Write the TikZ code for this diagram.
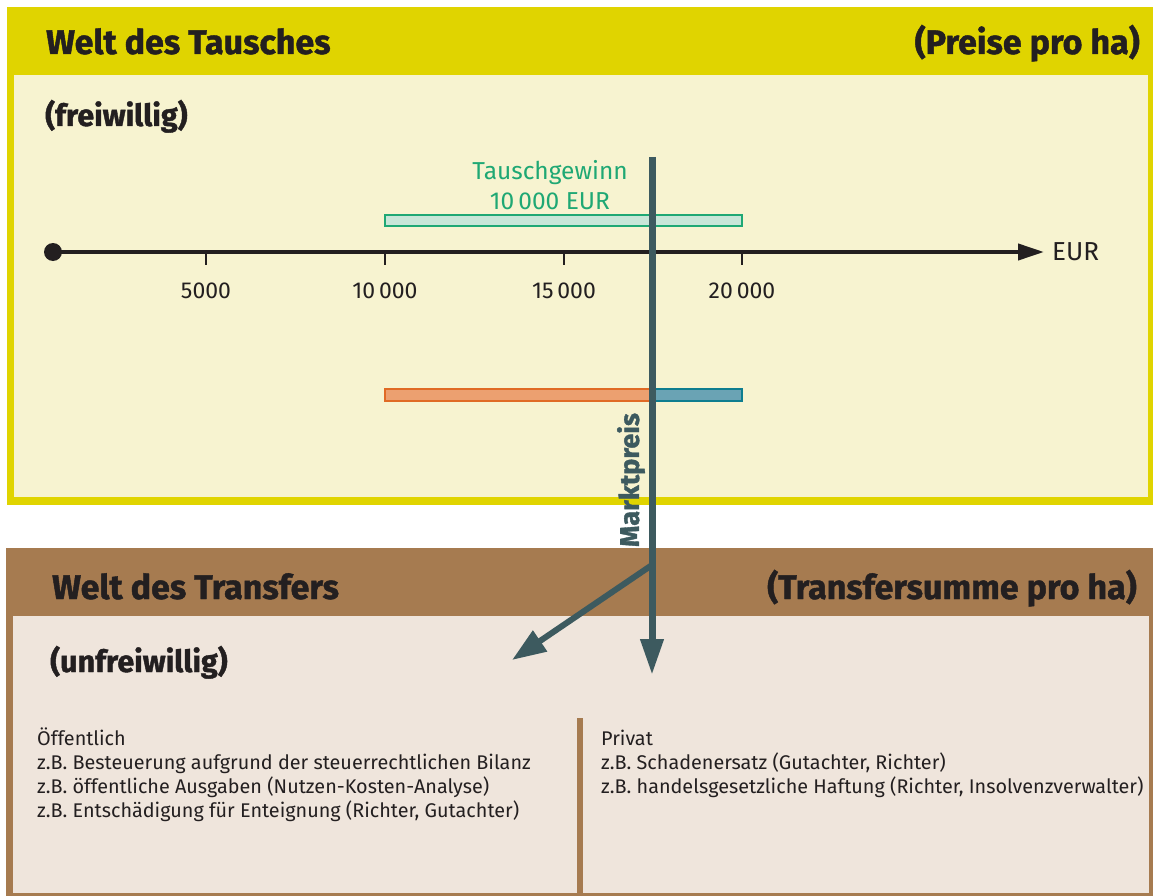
\documentclass[tikz,border=0pt]{standalone}
\usepackage{fontspec}
\setmainfont{Fira Sans}[BoldFeatures={FakeBold=1.3}]
\usetikzlibrary{arrows.meta}
\definecolor{topyellow}{HTML}{E0D400}
\definecolor{toplight}{HTML}{F7F3D0}
\definecolor{botbrown}{HTML}{A67B50}
\definecolor{botlight}{HTML}{EFE5DC}
\definecolor{ink}{HTML}{231F20}
\definecolor{gstroke}{HTML}{1FA874}
\definecolor{gfill}{HTML}{C8E6D8}
\definecolor{ostroke}{HTML}{E06A25}
\definecolor{ofill}{HTML}{ECA070}
\definecolor{tstroke}{HTML}{0E7D8F}
\definecolor{tfill}{HTML}{6AA3B4}
\definecolor{mline}{HTML}{3D5A5F}
\tikzset{
  head/.style={font=\fontsize{34}{38}\selectfont\bfseries, text=ink, inner sep=0pt},
  sub/.style={font=\fontsize{30.5}{34}\selectfont\bfseries, text=ink, inner sep=0pt},
  ticklabel/.style={font=\fontsize{23}{26}\selectfont, text=ink, inner sep=0pt},
  body/.style={font=\fontsize{19.8}{24}\selectfont, text=ink, inner sep=0pt, anchor=base west},
  bar/.style={line width=2.5pt},
  mkt/.style={draw=mline, line width=7pt},
}
\begin{document}
\begin{tikzpicture}[x=1pt,y=-1pt]
\useasboundingbox (0,0) rectangle (1153,896);
\fill[white] (0,0) rectangle (1153,896);
% top panel
\fill[topyellow] (7,7) rectangle (1153,505);
\fill[toplight] (14,75) rectangle (1148,497);
% bottom panel
\fill[botbrown] (6,548) rectangle (1153,896);
\fill[botlight] (13,616) rectangle (1149,893);
\fill[botbrown] (577,718) rectangle (583,896);

% headings
\node[head, anchor=base west] (t1) at (46,54) {Welt des Tausches};
\node[head, anchor=base east] (t2) at (1140,54) {(Preise pro ha)};
\node[sub, anchor=base west] (t3) at (45,126) {(freiwillig)};
\node[head, anchor=base west] (b1) at (52,599) {Welt des Transfers};
\node[head, anchor=base east] (b2) at (1137,599) {(Transfersumme pro ha)};
\node[sub, anchor=base west] (b3) at (50,672) {(unfreiwillig)};

% axis
\coordinate (a0) at (53,252);
\coordinate (a1) at (1044,252);
\draw[ink, line width=4pt, -{Triangle[length=26pt,width=16pt]}] (a0) -- (a1);
\fill[ink] (a0) circle (9pt);
\node[font=\fontsize{26}{30}\selectfont, text=ink, anchor=west, inner sep=0pt] (eur) at (1052,252) {EUR};
\foreach \x/\l in {206/5000, 385/10\,000, 564/15\,000, 742/20\,000}{
  \draw[ink, line width=2.5pt] (\x,252) -- (\x,265);
  \node[ticklabel] at (\x,291) {\l};
}

% Tauschgewinn bar
\draw[bar, draw=gstroke, fill=gfill] (385,215) rectangle (742,226);
\node[font=\fontsize{24.5}{30}\selectfont, text=gstroke, align=center, inner sep=0pt] (tg) at (550,185) {Tauschgewinn\\10\,000 EUR};

% lower bars
\draw[bar, draw=ostroke, fill=ofill] (385,389) rectangle (652,401);
\draw[bar, draw=tstroke, fill=tfill] (652,389) rectangle (742,401);

% Marktpreis line
\coordinate (mtop) at (652,157);
\coordinate (mbranch) at (652,565);
\coordinate (mend) at (652,675);
\coordinate (lend) at (512,660);
\draw[mkt, -{Triangle[length=36pt,width=22pt]}] (mtop) -- (mend);
\draw[mkt, line width=6pt, -{Triangle[length=34pt,width=24pt]}] (mbranch) -- (lend);
\node[font=\fontsize{27}{30}\selectfont\bfseries, text=mline, rotate=90, inner sep=0pt] (mp) at (631,480) {Marktpreis};

% lower text
\node[body] (pub0) at (37,745) {Öffentlich};
\node[body] (pub1) at (37,769) {z.B. Besteuerung aufgrund der steuerrechtlichen Bilanz};
\node[body] (pub2) at (37,793) {z.B. öffentliche Ausgaben (Nutzen-Kosten-Analyse)};
\node[body] (pub3) at (37,817) {z.B. Entschädigung für Enteignung (Richter, Gutachter)};
\node[body] (priv0) at (601,745) {Privat};
\node[body] (priv1) at (601,769) {z.B. Schadenersatz (Gutachter, Richter)};
\node[body] (priv2) at (601,793) {z.B. handelsgesetzliche Haftung (Richter, Insolvenzverwalter)};
\end{tikzpicture}
\end{document}
